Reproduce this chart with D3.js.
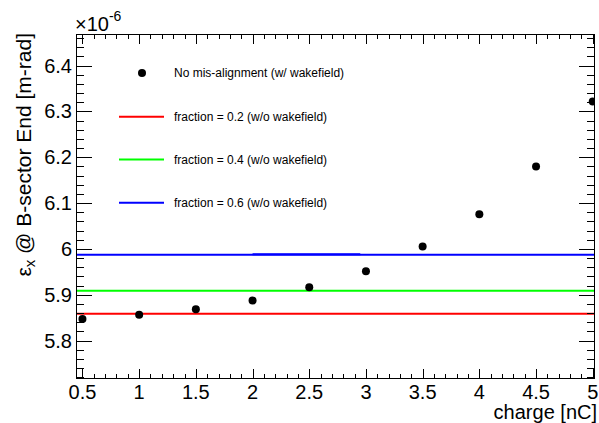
<!DOCTYPE html>
<html><head><meta charset="utf-8">
<script src="https://cdn.jsdelivr.net/npm/d3@7"></script>
<style>
html,body{margin:0;padding:0;background:#fff;}
svg text{font-family:"Liberation Sans",Arial,sans-serif;}
</style></head>
<body>
<svg id="c" width="599" height="423"></svg>
<script>
// ---- data ----
const charge = [0.5, 1, 1.5, 2, 2.5, 3, 3.5, 4, 4.5, 5];
const emittance = [5.8467, 5.856, 5.8685, 5.8873, 5.9165, 5.9514, 6.0051, 6.0758, 6.1797, 6.3215];
const fractionLabels = ["fraction = 0.2 (w/o wakefield)", "fraction = 0.4 (w/o wakefield)", "fraction = 0.6 (w/o wakefield)"];
const fractionValues = [5.8583, 5.9084, 5.9870];
const fractionColors = ["#ff0000", "#00ff00", "#0000ff"];
const blueOverlapX = [2.0, 2.95];
const blueOverlapY = 5.9885;
const markerLabel = "No mis-alignment (w/ wakefield)";
const xDomain = [0.443, 5.02];
const yDomain = [5.716, 6.469];
const xMajor = [0.5, 1, 1.5, 2, 2.5, 3, 3.5, 4, 4.5, 5];
const yMajor = [5.8, 5.9, 6.0, 6.1, 6.2, 6.3, 6.4];
const xTitle = "charge [nC]";

// ---- layout ----
const L = 76, R = 595, T = 34, B = 379;
const svg = d3.select("#c");
const x = d3.scaleLinear().domain(xDomain).range([L, R]);
const y = d3.scaleLinear().domain(yDomain).range([B, T]);

svg.append("defs").append("clipPath").attr("id","fr")
  .append("rect").attr("x",L).attr("y",T).attr("width",R-L).attr("height",B-T);

const plot = svg.append("g").attr("clip-path","url(#fr)");

// horizontal fraction lines
fractionValues.forEach((v,i)=>{
  plot.append("line").attr("x1",L).attr("x2",R).attr("y1",y(v)).attr("y2",y(v))
    .attr("stroke",fractionColors[i]).attr("stroke-width",2);
});
plot.append("line").attr("x1",x(blueOverlapX[0])).attr("x2",x(blueOverlapX[1]))
  .attr("y1",y(blueOverlapY)).attr("y2",y(blueOverlapY))
  .attr("stroke","#0000ff").attr("stroke-width",2);

// points
plot.selectAll("circle.pt").data(charge).enter().append("circle")
  .attr("class","pt").attr("cx",d=>x(d)).attr("cy",(d,i)=>y(emittance[i])).attr("r",4).attr("fill","#000");

// ticks
const xMinor = d3.range(5,51).map(d=>d/10).filter(d=>d>=xDomain[0]&&d<=xDomain[1]);
const yMinor = d3.range(286,324).map(d=>d/50).filter(d=>d>=yDomain[0]&&d<=yDomain[1]);
const tk = svg.append("g").attr("stroke","#000").attr("stroke-width",1).attr("shape-rendering","crispEdges");
const xMajLen = 10.4, xMinLen = 5.2, yMajLen = 15.6, yMinLen = 7.8;
const isMajX = d => xMajor.some(m=>Math.abs(m-d)<1e-6);
const isMajY = d => yMajor.some(m=>Math.abs(m-d)<1e-6);
xMinor.forEach(d=>{
  const len = isMajX(d)?xMajLen:xMinLen;
  const px = Math.round(x(d))+0.5;
  tk.append("line").attr("x1",px).attr("x2",px).attr("y1",B).attr("y2",B-len);
  tk.append("line").attr("x1",px).attr("x2",px).attr("y1",T).attr("y2",T+len);
});
yMinor.forEach(d=>{
  const len = isMajY(d)?yMajLen:yMinLen;
  const py = Math.round(y(d))+0.5;
  tk.append("line").attr("x1",L).attr("x2",L+len).attr("y1",py).attr("y2",py);
  tk.append("line").attr("x1",R).attr("x2",R-len).attr("y1",py).attr("y2",py);
});
// frame
svg.append("rect").attr("x",L+0.5).attr("y",T+0.5).attr("width",R-L-1).attr("height",B-T-1)
  .attr("fill","none").attr("stroke","#000").attr("stroke-width",1).attr("shape-rendering","crispEdges");

// tick labels
const fmt = d => String(+d.toFixed(2));
svg.append("g").selectAll("text").data(xMajor).enter().append("text")
  .attr("x",d=>x(d)).attr("y",399).attr("text-anchor","middle").attr("font-size",20).attr("fill","#000").text(fmt);
svg.append("g").selectAll("text").data(yMajor).enter().append("text")
  .attr("x",72).attr("y",d=>y(d)+7).attr("text-anchor","end").attr("font-size",20).attr("fill","#000").text(fmt);

// exponent
const ex = svg.append("text").attr("x",75).attr("y",31).attr("font-size",20).attr("fill","#000");
ex.append("tspan").text("×10");
ex.append("tspan").attr("font-size",14).attr("dy",-10).text("-6");

// axis titles
svg.append("text").attr("x",597).attr("y",419).attr("text-anchor","end").attr("font-size",20).attr("fill","#000").text(xTitle);
const yt = svg.append("text").attr("transform","translate(31,33) rotate(-90)").attr("text-anchor","end")
  .attr("font-size",21).attr("fill","#000");
yt.append("tspan").text("ε");
yt.append("tspan").attr("font-size",15).attr("dy",4).text("x");
yt.append("tspan").attr("dy",-4).text(" @ B-sector End [m-rad]");

// legend
const lg = svg.append("g");
const rowY = [73, 116.7, 159.5, 202.7];
lg.append("circle").attr("cx",142).attr("cy",rowY[0]).attr("r",4).attr("fill","#000");
lg.append("text").attr("x",174).attr("y",rowY[0]+4).attr("font-size",12).attr("fill","#000").text(markerLabel);
fractionLabels.forEach((t,i)=>{
  lg.append("line").attr("x1",119).attr("x2",164).attr("y1",rowY[i+1]).attr("y2",rowY[i+1])
    .attr("stroke",fractionColors[i]).attr("stroke-width",2);
  lg.append("text").attr("x",174).attr("y",rowY[i+1]+4).attr("font-size",12).attr("fill","#000").text(t);
});
</script>
</body></html>
